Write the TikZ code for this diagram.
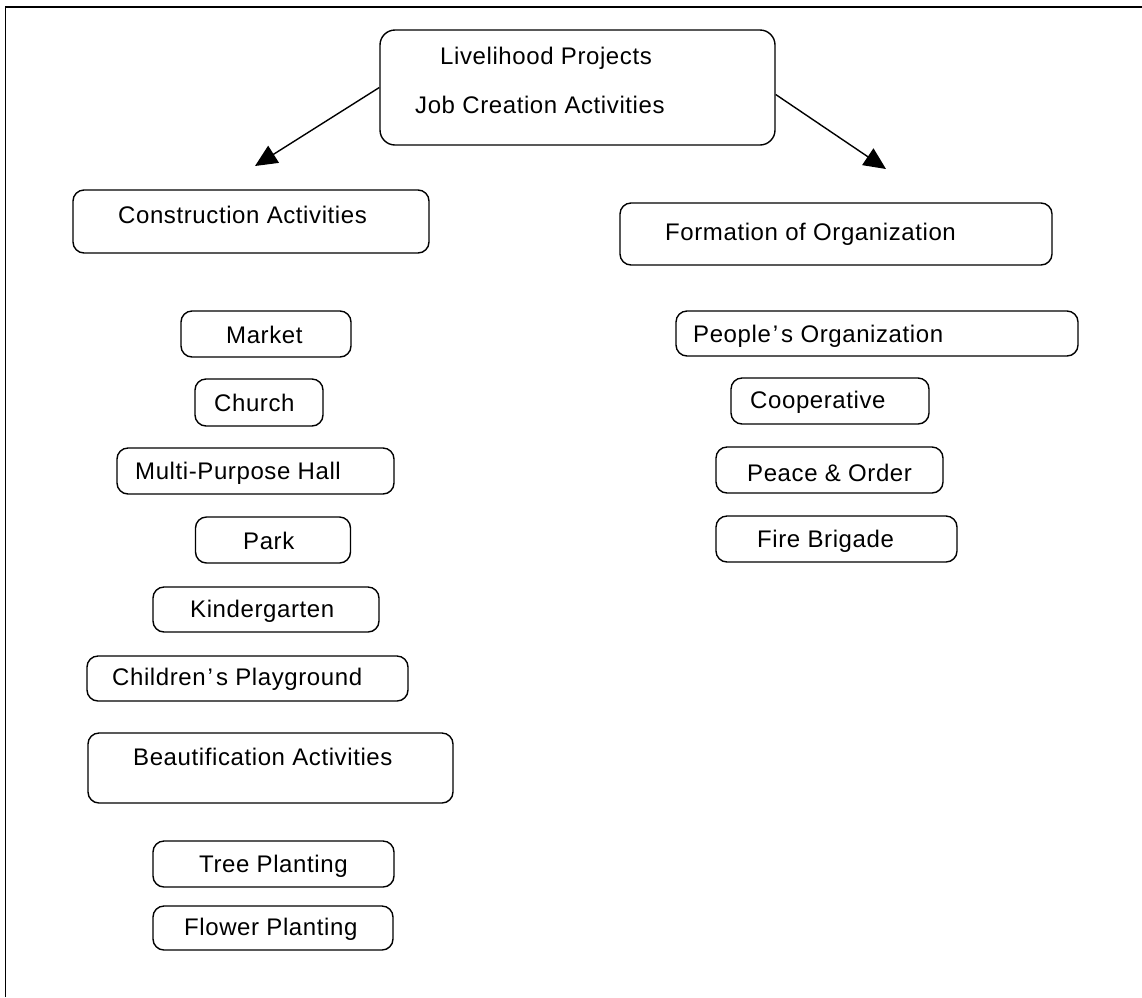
\documentclass[tikz,border=0pt]{standalone}
\usepackage{fontspec}
\setmainfont{Liberation Sans}[LetterSpace=2.5]
\usetikzlibrary{arrows.meta}
\newcommand{\apos}{\kern2pt’\kern3pt}
\begin{document}
\begin{tikzpicture}[x=1pt,y=-1pt,
  box/.style={draw, line width=1.4pt, rounded corners=11pt, inner sep=0pt},
  lbl/.style={inner sep=0pt, anchor=west, font=\fontsize{24}{28}\selectfont},
  arr/.style={line width=1.4pt, -{Triangle[length=22pt,width=20pt]}}]
\useasboundingbox (0,0) rectangle (1142,997);
% outer frame (open at right and bottom)
\draw[line width=1.6pt] (5.5,997) -- (5.5,7) -- (1142,7);
% top box
\node[box, rounded corners=15pt, minimum width=395pt, minimum height=115pt] (top) at (577.5,87.5) {};
\node[lbl] (top-a) at (440,58) {Livelihood Projects};
\node[lbl] (top-b) at (415,105) {Job Creation Activities};
% main categories
\node[box, minimum width=356pt, minimum height=63pt] (cons) at (251,221.5) {};
\node[lbl] (cons-t) at (118,215) {Construction Activities};
\node[box, minimum width=432pt, minimum height=62pt] (form) at (836,234) {};
\node[lbl] (form-t) at (665,234) {Formation of Organization};
% arrows
\coordinate (tipL) at (255,166);
\coordinate (tipR) at (886,169);
\draw[arr] (top.west) -- (tipL);
\draw[arr] ([yshift=-7pt]top.east) -- (tipR);
% left column
\node[box, minimum width=170pt, minimum height=46pt] (market) at (266,334) {};
\node[lbl] (market-t) at (226,335) {Market};
\node[box, minimum width=128pt, minimum height=47pt] (church) at (259,402.5) {};
\node[lbl] (church-t) at (214,403) {Church};
\node[box, minimum width=277pt, minimum height=46pt] (hall) at (255.5,471) {};
\node[lbl] (hall-t) at (135,473) {Multi-Purpose Hall};
\node[box, minimum width=155pt, minimum height=46pt] (park) at (273,540) {};
\node[lbl] (park-t) at (243,541) {Park};
\node[box, minimum width=226pt, minimum height=45pt] (kinder) at (266,609.5) {};
\node[lbl] (kinder-t) at (190,611) {Kindergarten};
\node[box, minimum width=321pt, minimum height=45pt] (play) at (247.5,678.5) {};
\node[lbl] (play-t) at (112,679) {Children\apos s Playground};
\node[box, minimum width=365pt, minimum height=70pt] (beaut) at (270.5,768) {};
\node[lbl] (beaut-t) at (133,757) {Beautification Activities};
\node[box, minimum width=241pt, minimum height=46pt] (tree) at (273.5,864) {};
\node[lbl] (tree-t) at (199,866) {Tree Planting};
\node[box, minimum width=240pt, minimum height=44pt] (flower) at (273,928) {};
\node[lbl] (flower-t) at (184,929) {Flower Planting};
% right column
\node[box, minimum width=402pt, minimum height=45pt] (people) at (877,333.5) {};
\node[lbl] (people-t) at (693,336) {People\apos s Organization};
\node[box, minimum width=198pt, minimum height=46pt] (coop) at (830,401) {};
\node[lbl] (coop-t) at (750,402) {Cooperative};
\node[box, minimum width=227pt, minimum height=46pt] (peace) at (829.5,470) {};
\node[lbl] (peace-t) at (747,473) {Peace \& Order};
\node[box, minimum width=241pt, minimum height=46pt] (fire) at (836.5,539) {};
\node[lbl] (fire-t) at (757,541) {Fire Brigade};
\end{tikzpicture}
\end{document}
